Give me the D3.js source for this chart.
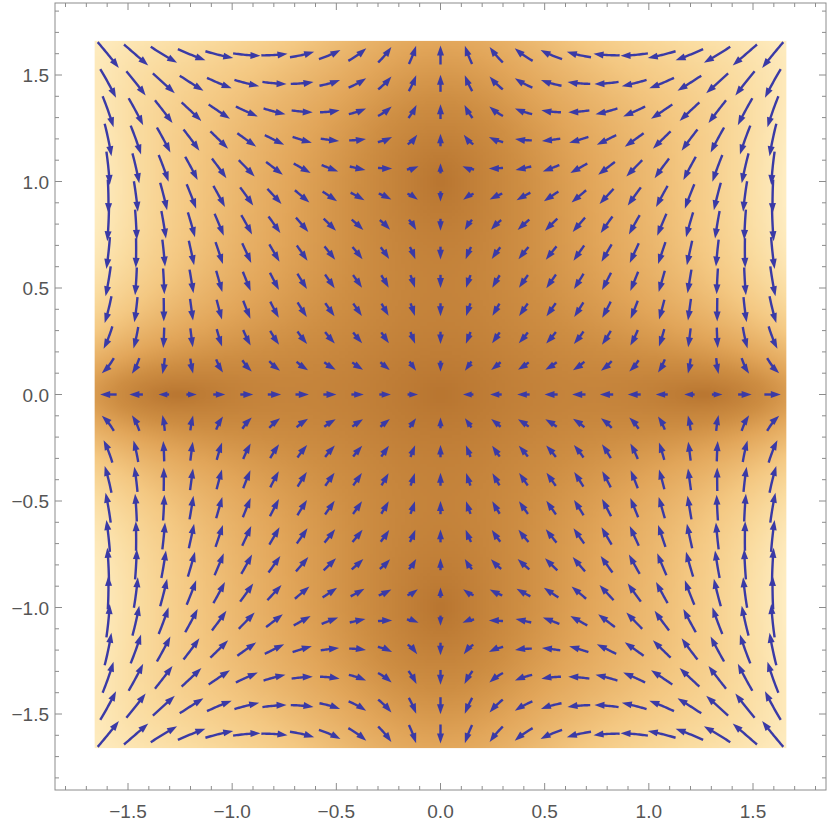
<!DOCTYPE html>
<html><head><meta charset="utf-8">
<script src="https://cdn.jsdelivr.net/npm/d3@7"></script>
<style>body{margin:0;background:#fff}</style>
</head><body>
<svg id="chart" width="830" height="830"></svg>
<script>
// ---------- data ----------
const tickValues = [-1.5, -1.0, -0.5, 0.0, 0.5, 1.0, 1.5];
const tickLabels = ["−1.5", "−1.0", "−0.5", "0.0", "0.5", "1.0", "1.5"];
const minorTickValues = [-1.8,-1.7,-1.6,-1.4,-1.3,-1.2,-1.1,-0.9,-0.8,-0.7,-0.6,-0.4,-0.3,-0.2,-0.1,
  0.1,0.2,0.3,0.4,0.6,0.7,0.8,0.9,1.1,1.2,1.3,1.4,1.6,1.7,1.8];
// arrow sample points (25 x 25)
const gridX = [-1.594,-1.461,-1.328,-1.195,-1.062,-0.930,-0.797,-0.664,-0.531,-0.398,-0.266,-0.133,0,
  0.133,0.266,0.398,0.531,0.664,0.797,0.930,1.062,1.195,1.328,1.461,1.594];
const gridY = [-1.594,-1.461,-1.328,-1.195,-1.062,-0.930,-0.797,-0.664,-0.531,-0.398,-0.266,-0.133,0,
  0.133,0.266,0.398,0.531,0.664,0.797,0.930,1.062,1.195,1.328,1.461,1.594];
const regionExtent = [-1.66, 1.66];
// vector field: saddles at (±1.26,0) and (0,±1.0), sink at origin
const saddleX = 1.26, saddleY = 1.0;
const crossX = -1.18, crossY = -2.14, vxGain = 0.45, ySplit = 0.3;
const colorStopsT = [0, 0.2, 0.35, 0.6, 0.8, 1];
const colorStops = ["rgb(184,117,48)", "rgb(206,142,67)", "rgb(226,166,90)", "rgb(244,200,130)", "rgb(250,220,160)", "rgb(254,237,194)"];

function field(px, py) {
  const s = 1 + py*py;
  const vx = vxGain * px * (px*px - saddleX*saddleX + crossX*py*py) * Math.pow(s, ySplit);
  const vy = py * (py*py - saddleY*saddleY + crossY*px*px) / Math.pow(s, 1 - ySplit);
  return [vx, vy];
}

// ---------- layout ----------
const svg = d3.select("#chart");
const x = d3.scaleLinear().domain([-1.5, 1.5]).range([128, 753]);
const y = d3.scaleLinear().domain([-1.5, 1.5]).range([714, 75]);
const frame = {left: 55, right: 826, top: 3, bottom: 790};
const kx = (x(1) - x(0)), ky = (y(0) - y(1));

// ---------- density background ----------
const color = d3.scaleLinear().domain(colorStopsT).range(colorStops).interpolate(d3.interpolateRgb);
const N = 220;
const cnv = document.createElement("canvas");
cnv.width = N; cnv.height = N;
const ctx = cnv.getContext("2d");
const img = ctx.createImageData(N, N);
const span = regionExtent[1] - regionExtent[0];
let mags = [], maxMag = 0;
for (let j = 0; j < N; j++) {
  for (let i = 0; i < N; i++) {
    const px = regionExtent[0] + span * (i + 0.5) / N;
    const py = regionExtent[1] - span * (j + 0.5) / N;
    const [vx, vy] = field(px, py);
    const m = Math.hypot(vx, vy);
    mags.push(m); if (m > maxMag) maxMag = m;
  }
}
for (let k = 0; k < N * N; k++) {
  const c = d3.rgb(color(Math.pow(mags[k] / maxMag, 0.9)));
  img.data[4*k] = c.r; img.data[4*k+1] = c.g; img.data[4*k+2] = c.b; img.data[4*k+3] = 255;
}
ctx.putImageData(img, 0, 0);
svg.append("image")
  .attr("x", x(regionExtent[0])).attr("y", y(regionExtent[1]))
  .attr("width", x(regionExtent[1]) - x(regionExtent[0]))
  .attr("height", y(regionExtent[0]) - y(regionExtent[1]))
  .attr("preserveAspectRatio", "none")
  .attr("href", cnv.toDataURL());

// ---------- arrows ----------
const arrowColor = "#3a3aa6";
let arrows = [], vmax = 0;
gridY.forEach(gy => gridX.forEach(gx => {
  const [vx, vy] = field(gx, gy);
  const m = Math.hypot(vx, vy);
  if (m > vmax) vmax = m;
  arrows.push({gx, gy, m});
}));
function trace(x0, y0, dir, len, steps) {
  let cx = x0, cy = y0; const pts = [];
  const ds = len / steps;
  for (let s = 0; s < steps; s++) {
    const [vx, vy] = field(cx, cy);
    const ux = vx * kx, uy = vy * ky;
    const n = Math.hypot(ux, uy) || 1;
    cx += dir * ds * ux / n / kx;
    cy += dir * ds * uy / n / ky;
    pts.push([x(cx), y(cy)]);
  }
  return pts;
}
const g = svg.append("g");
arrows.forEach(a => {
  if (a.m < 1e-9) return;
  const t = a.m / vmax;
  const L = 8.5 + 25 * Math.pow(t, 0.72);
  const h = Math.min(10, 0.45 * L + 4), w = h * 0.7;
  const back = trace(a.gx, a.gy, -1, L / 2, 8).reverse();
  const fwd = trace(a.gx, a.gy, 1, L / 2, 8);
  const tip = fwd[fwd.length - 1];
  const prev = fwd[fwd.length - 3] || [x(a.gx), y(a.gy)];
  let dx = tip[0] - prev[0], dy = tip[1] - prev[1];
  const dn = Math.hypot(dx, dy) || 1; dx /= dn; dy /= dn;
  const base = [tip[0] - dx * h, tip[1] - dy * h];
  const all = back.concat([[x(a.gx), y(a.gy)]], fwd);
  const linePts = [];
  let acc = 0; const total = L - h * 0.8;
  linePts.push(all[0]);
  for (let i = 1; i < all.length; i++) {
    const seg = Math.hypot(all[i][0] - all[i-1][0], all[i][1] - all[i-1][1]);
    if (acc + seg >= total) {
      const f = (total - acc) / (seg || 1);
      linePts.push([all[i-1][0] + f * (all[i][0] - all[i-1][0]), all[i-1][1] + f * (all[i][1] - all[i-1][1])]);
      break;
    }
    acc += seg; linePts.push(all[i]);
  }
  if (total > 0.5) {
    g.append("path").attr("d", d3.line()(linePts))
      .attr("fill", "none").attr("stroke", arrowColor).attr("stroke-width", 2.4)
      .attr("stroke-linecap", "butt");
  }
  const px = -dy, py = dx;
  g.append("path").attr("d", d3.line()([tip, [base[0] + px * w / 2, base[1] + py * w / 2], [base[0] - px * w / 2, base[1] - py * w / 2]]) + "Z")
    .attr("fill", arrowColor);
});

// ---------- frame & ticks ----------
const frameColor = "#8c8c8c";
svg.append("rect").attr("x", frame.left).attr("y", frame.top)
  .attr("width", frame.right - frame.left).attr("height", frame.bottom - frame.top)
  .attr("fill", "none").attr("stroke", frameColor).attr("stroke-width", 1);
const tk = svg.append("g").attr("stroke", frameColor).attr("stroke-width", 1);
const drawTicks = (vals, len) => {
  vals.forEach(v => {
    tk.append("line").attr("x1", x(v)).attr("x2", x(v)).attr("y1", frame.bottom).attr("y2", frame.bottom - len);
    tk.append("line").attr("x1", x(v)).attr("x2", x(v)).attr("y1", frame.top).attr("y2", frame.top + len);
    tk.append("line").attr("y1", y(v)).attr("y2", y(v)).attr("x1", frame.left).attr("x2", frame.left + len);
    tk.append("line").attr("y1", y(v)).attr("y2", y(v)).attr("x1", frame.right).attr("x2", frame.right - len);
  });
};
drawTicks(tickValues, 7);
drawTicks(minorTickValues, 4);

const labelFont = "'Liberation Sans', Arial, sans-serif";
svg.append("g").selectAll("text").data(tickValues).join("text")
  .attr("x", d => x(d)).attr("y", frame.bottom + 28)
  .attr("text-anchor", "middle").attr("font-family", labelFont).attr("font-size", 19)
  .attr("fill", "#555").text((d, i) => tickLabels[i]);
svg.append("g").selectAll("text").data(tickValues).join("text")
  .attr("x", frame.left - 6).attr("y", d => y(d) + 7)
  .attr("text-anchor", "end").attr("font-family", labelFont).attr("font-size", 19)
  .attr("fill", "#555").text((d, i) => tickLabels[i]);
</script>
</body></html>
